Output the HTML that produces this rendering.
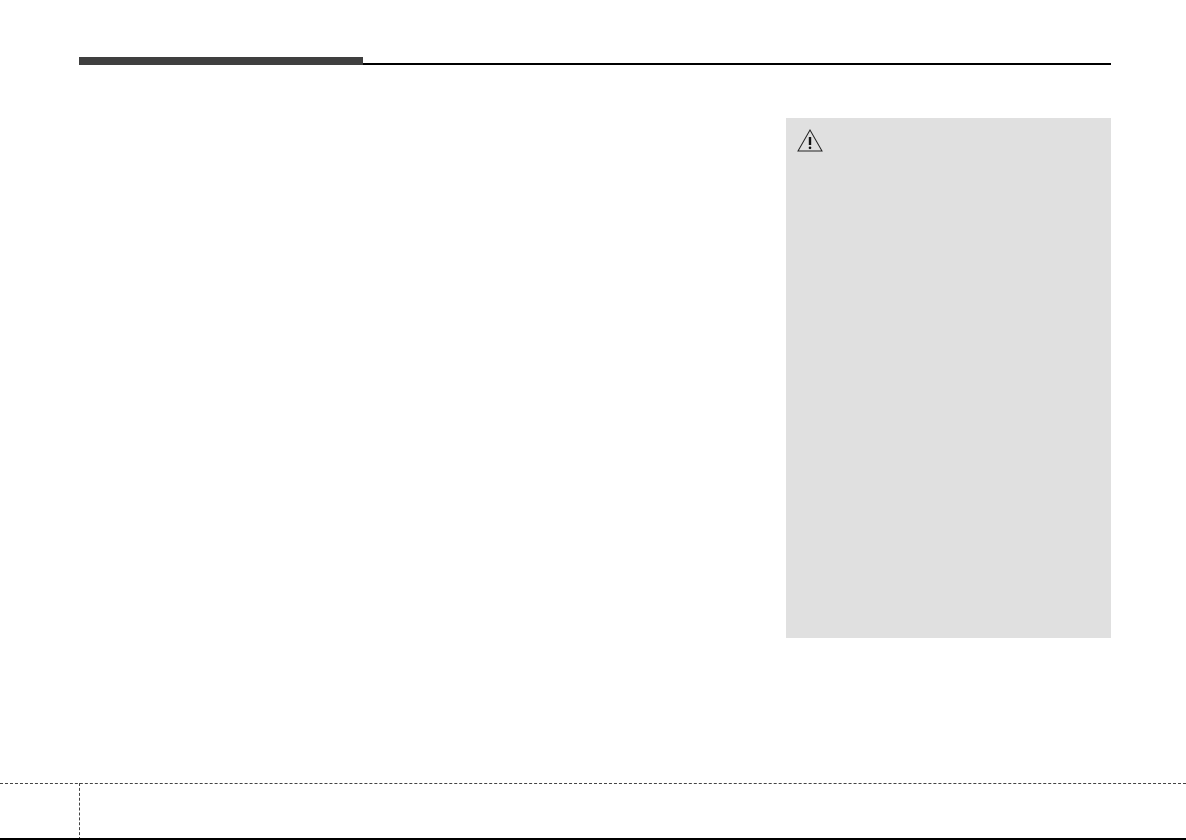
<!DOCTYPE html>
<html><head><style>
body{margin:0;width:1186px;height:840px;background:#fff;position:relative;overflow:hidden;font-family:"Liberation Sans",sans-serif}
div{position:absolute}
</style></head><body>
<div style="left:79px;top:57px;width:284px;height:8px;background:#3f3f3f"></div>
<div style="left:363px;top:63px;width:748px;height:2px;background:#000"></div>
<div style="left:786px;top:118px;width:325px;height:520px;background:#e0e0e0"></div>
<svg style="position:absolute;left:796px;top:128px" width="28" height="26" viewBox="0 0 28 26">
<polygon points="14,2 26,23 2,23" fill="none" stroke="#222" stroke-width="1"/>
<rect x="12.8" y="9" width="2.4" height="8" fill="#111"/>
<circle cx="14" cy="19.8" r="1.3" fill="#111"/>
</svg>
<div style="left:0;top:783px;width:1186px;border-top:1px dashed #444"></div>
<div style="left:79px;top:783px;height:57px;border-left:1px dashed #444"></div>
<div style="left:0;top:838px;width:1186px;height:2px;background:#000"></div>
</body></html>
